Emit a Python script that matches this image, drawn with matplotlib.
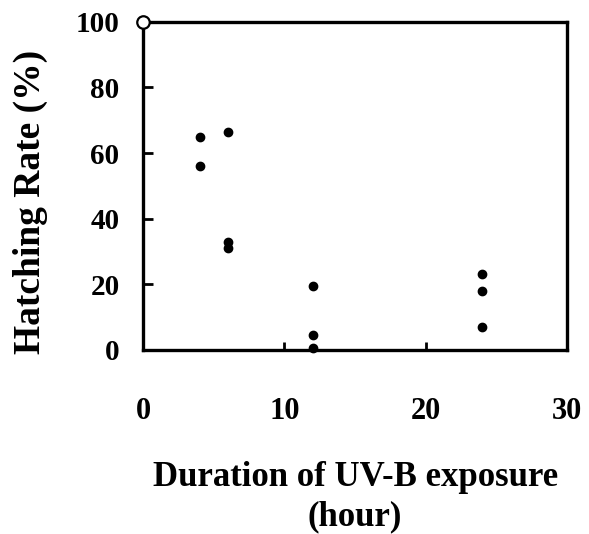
import matplotlib
matplotlib.use('Agg')
import matplotlib.pyplot as plt

plt.rcParams['font.family'] = ['Liberation Serif', 'DejaVu Serif']
plt.rcParams['font.weight'] = 'bold'

# UV-B exposure (hours) vs hatching rate (%)
hours = [4, 4, 6, 6, 6, 12, 12, 12, 24, 24, 24]
hatching = [65, 56, 66.5, 33, 31, 19.5, 4.5, 0.5, 23, 18, 7]
control_hours = [0]
control_rate = [100]

x_label_pos = [0, 10, 20, 30]
x_ticklabels = ['0', '10', '20', '30']
x_tick_marks = [10, 20]
y_ticks = [0, 20, 40, 60, 80, 100]

fig = plt.figure(figsize=(5.89, 5.34), dpi=100)
ax = fig.add_axes([0.243, 0.345, 0.72, 0.614])

ax.plot(hours, hatching, 'o', color='black', markersize=6, clip_on=False, zorder=3)
ax.plot(control_hours, control_rate, 'o', markerfacecolor='white', markeredgecolor='black',
        markersize=9, markeredgewidth=1.6, clip_on=False, zorder=4)

ax.set_xlim(0, 30)
ax.set_ylim(0, 100)

for s in ax.spines.values():
    s.set_linewidth(2.4)

# y ticks pointing inward
ax.set_yticks(y_ticks)
ax.tick_params(axis='y', direction='in', length=7, width=2, pad=17, labelsize=21)

# x labels far below the axis, small inner tick marks only at 10 and 20
ax.xaxis.remove_overlapping_locs = False
ax.set_xticks(x_label_pos)
ax.set_xticklabels(x_ticklabels)
ax.tick_params(axis='x', which='major', length=0, pad=34, labelsize=22)
ax.set_xticks(x_tick_marks, minor=True)
ax.tick_params(axis='x', which='minor', direction='in', length=6, width=2)

ax.set_ylabel('Hatching Rate (%)', fontsize=27, fontweight='bold')
ax.yaxis.set_label_coords(-0.225, 0.45)
ax.set_xlabel('Duration of UV-B exposure\n(hour)', fontsize=25, fontweight='bold',
              labelpad=25, linespacing=1.28)

fig.savefig('out.png', dpi=100)
